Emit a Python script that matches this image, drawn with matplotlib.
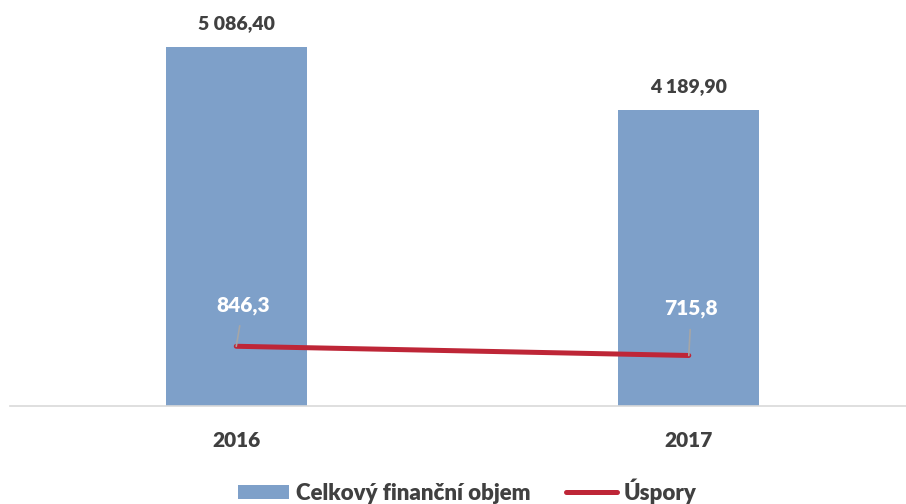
import matplotlib.pyplot as plt
from matplotlib.patches import Patch
from matplotlib.lines import Line2D

years = ['2016', '2017']
objem = [5086.40, 4189.90]
uspory = [846.3, 715.8]
objem_labels = ['5 086,40', '4 189,90']
uspory_labels = ['846,3', '715,8']

bar_color = '#7EA0C9'
line_color = '#BE2637'
text_color = '#404040'

plt.rcParams['font.family'] = ['Lato', 'DejaVu Sans']

fig = plt.figure(figsize=(9.06, 5.04), dpi=100)
ax = fig.add_axes([10 / 906, 98 / 504, 896 / 906, 396 / 504])

x = list(range(len(years)))
ax.bar(x, objem, width=0.312, color=bar_color, zorder=2)
ax.plot(x, uspory, color=line_color, linewidth=3.6, solid_capstyle='round', zorder=3)

ax.set_xlim(-0.5, 1.48)
ax.set_ylim(0, 5611)

# bar value labels
for xi, v, lab in zip(x, objem, objem_labels):
    ax.annotate(lab, (xi, v), xytext=(0, 17), textcoords='offset points',
                ha='center', va='center', fontsize=14, fontweight='heavy', color=text_color)

# line labels with leader lines
offsets = [(5, 29.5), (1.8, 33.5)]
for xi, v, lab, off in zip(x, uspory, uspory_labels, offsets):
    ax.annotate(lab, (xi, v), xytext=off, textcoords='offset points',
                ha='center', va='center', fontsize=15, fontweight='heavy', color='white',
                arrowprops=dict(arrowstyle='-', color='#A6A6A6', lw=1.2,
                                shrinkA=6, shrinkB=0), zorder=4)

ax.set_xticks(x)
ax.set_xticklabels(years, fontsize=15, fontweight='heavy', color=text_color)
ax.tick_params(axis='x', length=0, pad=18)
ax.set_yticks([])
for s in ['top', 'right', 'left']:
    ax.spines[s].set_visible(False)
ax.spines['bottom'].set_color('#D9D9D9')
ax.spines['bottom'].set_linewidth(1.2)

handles = [Patch(facecolor=bar_color, edgecolor='none'),
           Line2D([0], [0], color=line_color, linewidth=3.6, solid_capstyle='round')]
fig.legend(handles, ['Celkový finanční objem', 'Úspory'], loc='center',
           bbox_to_anchor=(467 / 906, 1 - 491 / 504), ncol=2, frameon=False,
           prop={'size': 16, 'weight': 'heavy'}, labelcolor=text_color,
           handlelength=2.3, handleheight=0.63, handletextpad=0.3,
           columnspacing=1.6)

fig.savefig('out.png', dpi=100)
